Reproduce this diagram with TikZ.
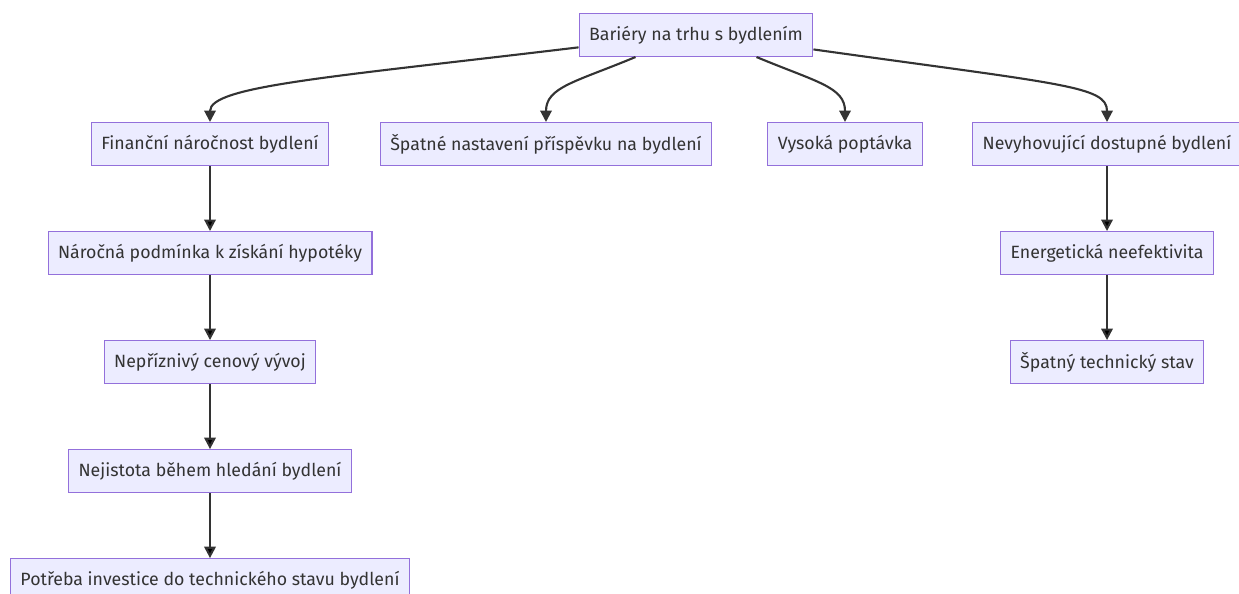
\documentclass[tikz,border=0pt]{standalone}
\usepackage{fontspec}
\setmainfont{Fira Sans}
\usetikzlibrary{positioning,arrows.meta}
\definecolor{boxfill}{HTML}{ECECFF}
\definecolor{boxline}{HTML}{9370DB}
\definecolor{ink}{HTML}{333333}

\begin{document}
\begin{tikzpicture}[
	x=0.02cm, y=0.02cm,
	node distance=1.3cm,
	mynode/.style={draw=boxline,fill=boxfill,text=ink,line width=0.6pt,minimum height=0.86cm,inner xsep=0.2cm,font=\fontsize{10.1}{12}\selectfont},
	myarrow/.style={draw=ink,line width=1.2pt,-{Triangle[length=6.5pt,width=6.5pt]}}
	]
	\useasboundingbox (0,0) rectangle (1239,-593);
	\node[mynode] (bariery) at (696,-35) {Bariéry na trhu s bydlením};
	\node[mynode] (financni) at (210,-144) {Finanční náročnost bydlení};
	\node[mynode] (prispevek) at (546,-144) {Špatné nastavení příspěvku na bydlení};
	\node[mynode] (poptavka) at (845,-144) {Vysoká poptávka};
	\node[mynode] (dostupne) at (1107,-144) {Nevyhovující dostupné bydlení};
	\node[mynode,below=of financni] (hypoteka) {Náročná podmínka k získání hypotéky};
	\node[mynode,below=of hypoteka] (cena) {Nepříznivý cenový vývoj};
	\node[mynode,below=of cena] (nejistota) {Nejistota během hledání bydlení};
	\node[mynode,below=of nejistota] (investice) {Potřeba investice do technického stavu bydlení};
	\node[mynode,below=of dostupne] (energie) {Energetická neefektivita};
	\node[mynode,below=of energie] (stav) {Špatný technický stav};
	\path[myarrow]
	(bariery.186) .. controls +(-250,-30) and +(0,36) .. (financni.north);
	\path[myarrow]
	(bariery.200) .. controls +(-60,-25) and +(0,35) .. (prispevek.north);
	\path[myarrow]
	(bariery.-20) .. controls +(60,-25) and +(0,35) .. (poptavka.north);
	\path[myarrow]
	(bariery.-7) .. controls +(250,-35) and +(0,36) .. (dostupne.north);
	\path[myarrow]
	(financni) edge (hypoteka)
	(hypoteka) edge (cena)
	(cena) edge (nejistota)
	(nejistota) edge (investice)
	(dostupne) edge (energie)
	(energie) edge (stav);
\end{tikzpicture}
\end{document}
